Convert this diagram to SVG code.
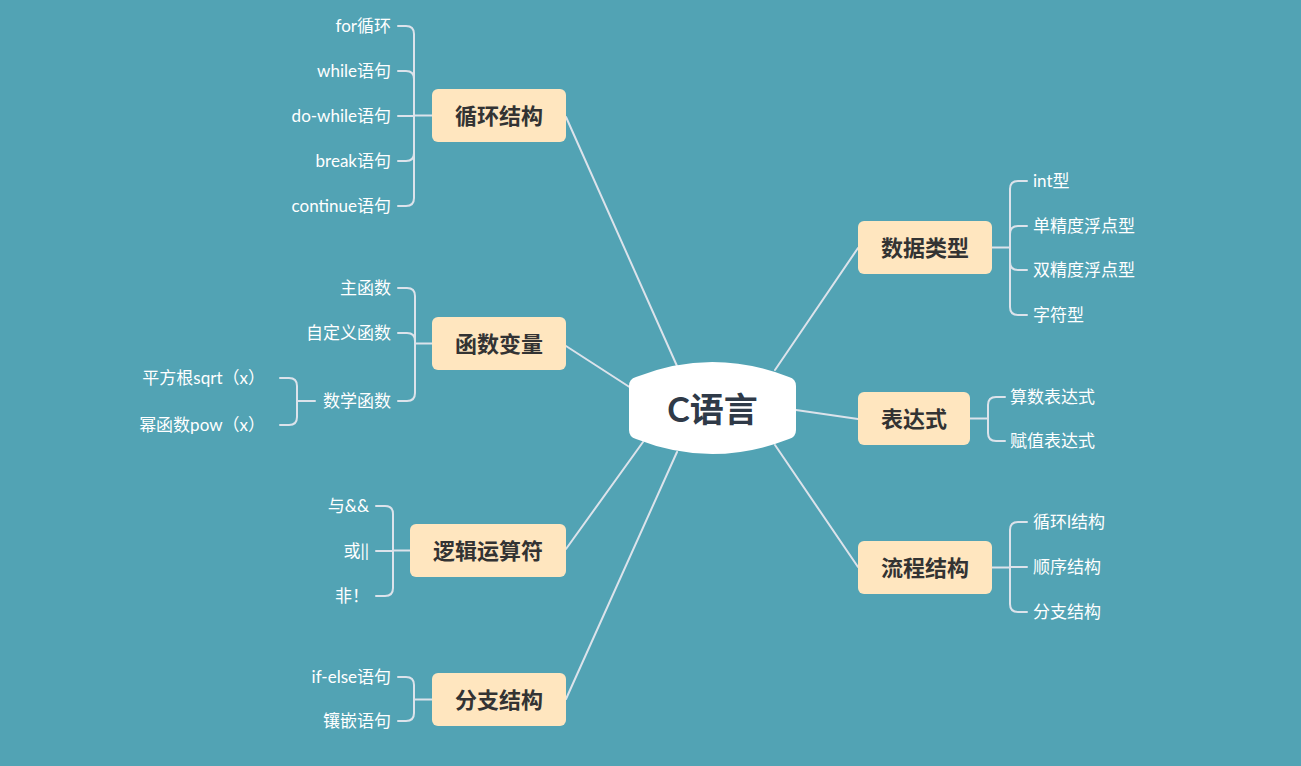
<svg xmlns="http://www.w3.org/2000/svg" width="1301" height="766" viewBox="0 0 1301 766">
<style>
.ln{fill:none;stroke:#dce3eb;stroke-width:2;stroke-linecap:round}
.br{fill:#ffe6bf}
.bt{font-family:Lato,"Noto Sans CJK SC",sans-serif;font-size:22px;font-weight:bold;fill:#333;text-anchor:middle;dominant-baseline:central}
.lf{font-family:Lato,"Noto Sans CJK SC",sans-serif;font-size:17px;fill:#fff;dominant-baseline:central;transform:translateY(-1px)}
.r{text-anchor:end}
</style>
<rect width="1301" height="766" fill="#52a3b4"/>
<g id="connectors">
<path class="ln" d="M566,117 L677,366 M566,346 L631,388 M566,549 L643,442 M566,699 L677,452 M858,248 L775,370 M858,419 L796,410 M858,567 L775,445"/>
<path class="ln" d="M432,115.5 H414 M398,26 H406 Q414,26 414,34 V198 Q414,206 406,206 H398 M398,71 H406 Q414,71 414,79 M398,161 H406 Q414,161 414,153 M398,116 H414"/>
<path class="ln" d="M432,343.5 H415 M398,288 H407 Q415,288 415,296 V393 Q415,401 407,401 H398 M398,333 H407 Q415,333 415,341"/>
<path class="ln" d="M315,401 H297 M280,378 H289 Q297,378 297,386 V417 Q297,425 289,425 H280"/>
<path class="ln" d="M410,550.5 H393 M376,506 H385 Q393,506 393,514 V588 Q393,596 385,596 H376 M376,551 H393"/>
<path class="ln" d="M432,699.5 H414 M398,677 H406 Q414,677 414,685 V713 Q414,721 406,721 H398"/>
<path class="ln" d="M992,247.5 H1010 M1027,181 H1018 Q1010,181 1010,189 V307 Q1010,315 1018,315 H1027 M1027,226 H1018 Q1010,226 1010,234 M1027,270 H1018 Q1010,270 1010,262"/>
<path class="ln" d="M970,418.5 H988 M1005,397 H996 Q988,397 988,405 V433 Q988,441 996,441 H1005"/>
<path class="ln" d="M992,567.5 H1010 M1027,522 H1018 Q1010,522 1010,530 V604 Q1010,612 1018,612 H1027 M1027,567 H1010"/>
</g>
<g id="center">
<path d="M636,377 Q712,347 789,377 Q796,379 796,386 V430 Q796,437 789,439 Q712,469 636,439 Q629,437 629,430 V386 Q629,379 636,377 Z" fill="#fff"/>
<text x="712.5" y="408" font-family="Lato,'Noto Sans CJK SC',sans-serif" font-size="34" font-weight="bold" fill="#2f3a48" text-anchor="middle" dominant-baseline="central">C语言</text>
</g>
<g id="n-loop">
<rect class="br" x="432" y="89" width="134" height="53" rx="6"/>
<text class="bt" x="499" y="115.5">循环结构</text>
<text class="lf r" x="391" y="26">for循环</text>
<text class="lf r" x="391" y="71">while语句</text>
<text class="lf r" x="391" y="116">do-while语句</text>
<text class="lf r" x="391" y="161">break语句</text>
<text class="lf r" x="391" y="206">continue语句</text>
</g>
<g id="n-func">
<rect class="br" x="432" y="317" width="134" height="53" rx="6"/>
<text class="bt" x="499" y="343.5">函数变量</text>
<text class="lf r" x="391" y="288">主函数</text>
<text class="lf r" x="391" y="333">自定义函数</text>
<text class="lf r" x="391" y="401">数学函数</text>
<text class="lf r" x="265" y="378">平方根sqrt（x）</text>
<text class="lf r" x="265" y="425">幂函数pow（x）</text>
</g>
<g id="n-logic">
<rect class="br" x="410" y="524" width="156" height="53" rx="6"/>
<text class="bt" x="488" y="550.5">逻辑运算符</text>
<text class="lf r" x="369" y="506">与&amp;&amp;</text>
<text class="lf r" x="369" y="551">或||</text>
<text class="lf r" x="369" y="596">非！</text>
</g>
<g id="n-branch">
<rect class="br" x="432" y="673" width="134" height="53" rx="6"/>
<text class="bt" x="499" y="699.5">分支结构</text>
<text class="lf r" x="391" y="677">if-else语句</text>
<text class="lf r" x="391" y="721">镶嵌语句</text>
</g>
<g id="n-data">
<rect class="br" x="858" y="221" width="134" height="53" rx="6"/>
<text class="bt" x="925" y="247.5">数据类型</text>
<text class="lf" x="1033" y="181">int型</text>
<text class="lf" x="1033" y="226">单精度浮点型</text>
<text class="lf" x="1033" y="270">双精度浮点型</text>
<text class="lf" x="1033" y="315">字符型</text>
</g>
<g id="n-expr">
<rect class="br" x="858" y="392" width="112" height="53" rx="6"/>
<text class="bt" x="914" y="418.5">表达式</text>
<text class="lf" x="1010" y="397">算数表达式</text>
<text class="lf" x="1010" y="441">赋值表达式</text>
</g>
<g id="n-flow">
<rect class="br" x="858" y="541" width="134" height="53" rx="6"/>
<text class="bt" x="925" y="567.5">流程结构</text>
<text class="lf" x="1033" y="522">循环l结构</text>
<text class="lf" x="1033" y="567">顺序结构</text>
<text class="lf" x="1033" y="612">分支结构</text>
</g>
</svg>
